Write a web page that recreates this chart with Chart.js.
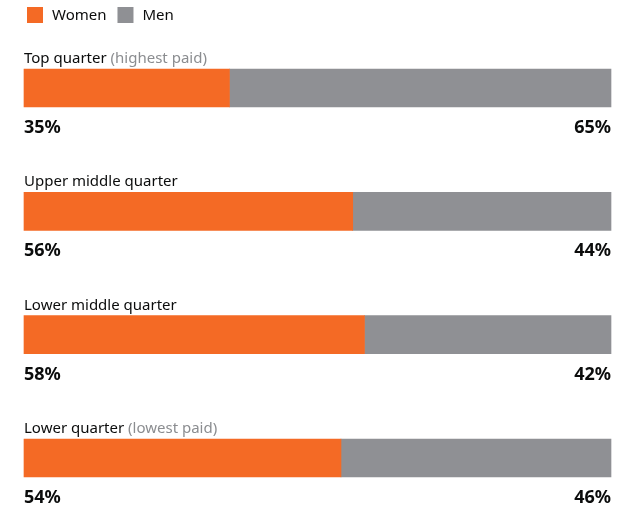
<!DOCTYPE html>
<html>
<head>
<meta charset="utf-8">
<script src="https://cdn.jsdelivr.net/npm/chart.js@4/dist/chart.umd.min.js"></script>
<style>
  html, body { margin: 0; padding: 0; background: #ffffff; }
  #wrap { width: 630px; height: 507px; }
</style>
</head>
<body>
<div id="wrap"><canvas id="c" width="630" height="507"></canvas></div>
<script>
// Pay quarters, from highest to lowest paid
const categories = ["Top quarter", "Upper middle quarter", "Lower middle quarter", "Lower quarter"];
const categoryNotes = ["(highest paid)", "", "", "(lowest paid)"];
const womenShare = [35, 56, 58, 54];
const menShare = [65, 44, 42, 46];
const seriesNames = ["Women", "Men"];

const ORANGE = "#f46a25";
const GREY = "#8f9094";
const INK = "#0b0c0c";
const NOTE = "#8b8d90";
const FONT = "'Noto Sans', 'Open Sans', sans-serif";

// Draws the legend, the quarter headings above each bar and the share labels below
const labelsPlugin = {
  id: "quarterLabels",
  afterDraw(chart) {
    const ctx = chart.ctx;
    const area = chart.chartArea;
    ctx.save();

    // legend
    ctx.textBaseline = "middle";
    ctx.textAlign = "left";
    ctx.font = "15px " + FONT;
    let lx = 27;
    chart.data.datasets.forEach((ds) => {
      ctx.fillStyle = ds.backgroundColor;
      ctx.fillRect(lx, 7, 16, 16);
      ctx.fillStyle = INK;
      ctx.fillText(ds.label, lx + 25, 16);
      lx += 25 + ctx.measureText(ds.label).width + 11;
    });

    const bars = chart.getDatasetMeta(0).data;
    bars.forEach((bar, i) => {
      const top = bar.y - bar.height / 2;
      const bottom = bar.y + bar.height / 2;

      // heading above the bar
      ctx.textBaseline = "alphabetic";
      ctx.textAlign = "left";
      ctx.font = "15px " + FONT;
      ctx.fillStyle = INK;
      const head = chart.data.labels[i];
      ctx.fillText(head, area.left, top - 6);
      if (categoryNotes[i]) {
        const w = ctx.measureText(head + " ").width;
        ctx.fillStyle = NOTE;
        ctx.fillText(categoryNotes[i], area.left + w, top - 6);
      }

      // shares below the bar
      ctx.font = "bold 18px " + FONT;
      ctx.fillStyle = INK;
      ctx.textAlign = "left";
      ctx.fillText(chart.data.datasets[0].data[i] + "%", area.left, bottom + 26);
      ctx.textAlign = "right";
      ctx.fillText(chart.data.datasets[1].data[i] + "%", area.right, bottom + 26);
    });
    ctx.restore();
  }
};

new Chart(document.getElementById("c"), {
  type: "bar",
  data: {
    labels: categories,
    datasets: [
      { label: seriesNames[0], data: womenShare, backgroundColor: ORANGE, barThickness: 38, borderWidth: 0, clip: false },
      { label: seriesNames[1], data: menShare, backgroundColor: GREY, barThickness: 38, borderWidth: 0, clip: false }
    ]
  },
  options: {
    indexAxis: "y",
    responsive: false,
    animation: false,
    layout: { padding: { left: 24, right: 19, top: 88, bottom: 49 } },
    scales: {
      x: { stacked: true, min: 0, max: 100, display: false },
      y: { stacked: true, offset: false, display: false }
    },
    plugins: {
      legend: { display: false },
      tooltip: { enabled: false }
    }
  },
  plugins: [labelsPlugin]
});
</script>
</body>
</html>
